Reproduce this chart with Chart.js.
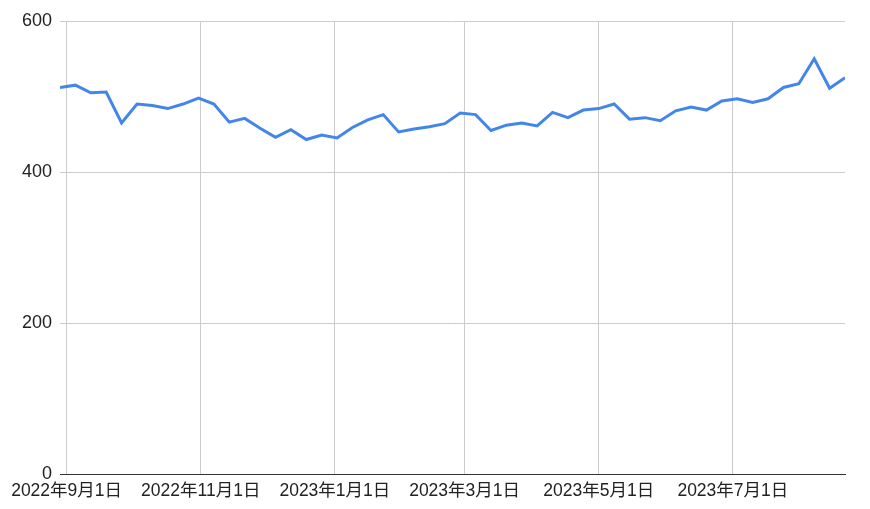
<!DOCTYPE html>
<html>
<head>
<meta charset="utf-8">
<script src="https://cdn.jsdelivr.net/npm/chart.js@4/dist/chart.umd.min.js"></script>
<style>
  html, body { margin: 0; padding: 0; background: #fff; }
  #wrap { width: 870px; height: 509px; }
</style>
</head>
<body>
<div id="wrap"><canvas id="chart" width="870" height="509"></canvas></div>
<script>
// weekly data points (Mondays)
const weeks = [
    '2022-08-29', '2022-09-05', '2022-09-12', '2022-09-19', '2022-09-26',
    '2022-10-03', '2022-10-10', '2022-10-17', '2022-10-24', '2022-10-31',
    '2022-11-07', '2022-11-14', '2022-11-21', '2022-11-28',
    '2022-12-05', '2022-12-12', '2022-12-19', '2022-12-26',
    '2023-01-02', '2023-01-09', '2023-01-16', '2023-01-23', '2023-01-30',
    '2023-02-06', '2023-02-13', '2023-02-20', '2023-02-27',
    '2023-03-06', '2023-03-13', '2023-03-20', '2023-03-27',
    '2023-04-03', '2023-04-10', '2023-04-17', '2023-04-24',
    '2023-05-01', '2023-05-08', '2023-05-15', '2023-05-22', '2023-05-29',
    '2023-06-05', '2023-06-12', '2023-06-19', '2023-06-26',
    '2023-07-03', '2023-07-10', '2023-07-17', '2023-07-24', '2023-07-31',
    '2023-08-07', '2023-08-14', '2023-08-21'
];
const values = [
    512, 515, 505, 506, 465, 490, 488, 484, 490, 498,
    490, 466, 471, 458, 446, 456, 443, 449, 445, 459,
    469, 476, 453, 457, 460, 464, 478, 476, 455, 462,
    465, 461, 479, 472, 482, 484, 490, 470, 472, 468,
    481, 486, 482, 494, 497, 492, 497, 512, 517, 550,
    511, 525
];

// x axis ticks
const tickDates = ['2022-09-01', '2022-11-01', '2023-01-01', '2023-03-01', '2023-05-01', '2023-07-01'];
const tickLabels = ['2022年9月1日', '2022年11月1日', '2023年1月1日', '2023年3月1日', '2023年5月1日', '2023年7月1日'];
// y axis ticks
const yTicks = [0, 200, 400, 600];

const FONT = '"Liberation Sans", Arial, "Noto Sans CJK JP", sans-serif';

function toDay(s) {
    const p = s.split('-').map(Number);
    return Date.UTC(p[0], p[1] - 1, p[2]) / 86400000;
}

const tickValues = tickDates.map(toDay);
const points = weeks.map((w, i) => ({ x: toDay(w), y: values[i] }));

new Chart(document.getElementById('chart').getContext('2d'), {
    type: 'line',
    data: {
        datasets: [{
            data: points,
            borderColor: '#4486e8',
            borderWidth: 3,
            pointRadius: 0,
            pointHoverRadius: 0,
            tension: 0,
            fill: false
        }]
    },
    options: {
        responsive: false,
        animation: false,
        layout: { padding: { top: 21, right: 25, left: 0, bottom: 0 } },
        plugins: {
            legend: { display: false },
            tooltip: { enabled: false }
        },
        scales: {
            x: {
                type: 'linear',
                min: points[0].x,
                max: points[points.length - 1].x,
                afterBuildTicks: (scale) => {
                    scale.ticks = tickValues.map((v) => ({ value: v }));
                },
                afterFit: (scale) => { scale.height = 35; },
                grid: { color: '#cccccc', lineWidth: 1, drawTicks: false },
                border: { display: true, color: '#333333', width: 1 },
                ticks: {
                    autoSkip: false,
                    maxRotation: 0,
                    padding: 7,
                    color: '#222222',
                    font: { family: FONT, size: 17.5 },
                    callback: (value) => {
                        const i = tickValues.indexOf(value);
                        return i >= 0 ? tickLabels[i] : '';
                    }
                }
            },
            y: {
                min: 0,
                max: 600,
                afterBuildTicks: (scale) => {
                    scale.ticks = yTicks.map((v) => ({ value: v }));
                },
                afterFit: (scale) => { scale.width = 60; },
                grid: { color: '#cccccc', lineWidth: 1, drawTicks: false },
                border: { display: false },
                ticks: {
                    padding: 8,
                    color: '#222222',
                    font: { family: FONT, size: 18 }
                }
            }
        }
    }
});
</script>
</body>
</html>
